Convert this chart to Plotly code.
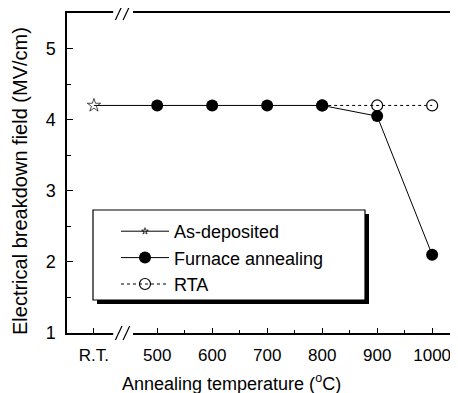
import plotly.graph_objects as go

# Data
tick_positions = [385, 500, 600, 700, 800, 900, 1000]
tick_labels = ["R.T.", "500", "600", "700", "800", "900", "1000"]

asdep_x = [385, 500]
asdep_y = [4.2, 4.2]

furnace_x = [500, 600, 700, 800, 900, 1000]
furnace_y = [4.2, 4.2, 4.2, 4.2, 4.05, 2.1]

rta_x = [800, 900, 1000]
rta_y = [4.2, 4.2, 4.2]

FONT = "Liberation Sans, Arial, sans-serif"

fig = go.Figure()

fig.add_trace(go.Scatter(
    x=asdep_x, y=asdep_y, name="As-deposited", mode="lines+markers",
    line=dict(color="black", width=1),
    marker=dict(symbol=["star-open", "circle"], size=[10, 0.1], color="black",
                line=dict(color="black", width=1)),
    legendrank=1,
))
fig.add_trace(go.Scatter(
    x=rta_x, y=rta_y, name="RTA", mode="lines+markers",
    line=dict(color="black", width=1, dash="dot"),
    marker=dict(symbol="circle-open", size=11, color="black",
                line=dict(color="black", width=1.2)),
    legendrank=3,
))
fig.add_trace(go.Scatter(
    x=furnace_x, y=furnace_y, name="Furnace annealing", mode="lines+markers",
    line=dict(color="black", width=1),
    marker=dict(symbol="circle", size=12, color="black"),
    legendrank=2,
))

# page pixel -> paper coords (page has an 8px body margin)
def px(v):
    return (v - 67) / 391

def py(v):
    return (333 - v) / 320

# legend box with shadow
fig.add_shape(type="rect", xref="paper", yref="paper",
              x0=px(97), x1=px(369), y0=py(304), y1=py(214),
              fillcolor="black", line=dict(width=0), layer="below")
fig.add_shape(type="rect", xref="paper", yref="paper",
              x0=px(93), x1=px(365), y0=py(300), y1=py(210),
              fillcolor="white", line=dict(color="black", width=1.2), layer="below")

# axis break marks
for y0 in (0, 1):
    fig.add_shape(type="line", xref="x", yref="paper", x0=420, x1=456, y0=y0, y1=y0,
                  line=dict(color="white", width=4))
    for xx in (424, 438):
        fig.add_shape(type="line", xref="x", yref="paper", x0=xx, x1=xx + 12,
                      y0=y0 - 0.022, y1=y0 + 0.022, line=dict(color="black", width=1.2))

# axis titles
fig.add_annotation(text="Annealing temperature (<sup>o</sup>C)", xref="paper", yref="paper",
                   x=px(231), y=py(382), xanchor="center", yanchor="middle",
                   showarrow=False, font=dict(family=FONT, size=18))
fig.add_annotation(text="Electrical breakdown field (MV/cm)", xref="paper", yref="paper",
                   x=px(20), y=py(181), xanchor="center", yanchor="middle",
                   textangle=-90, showarrow=False, font=dict(family=FONT, size=20))

fig.update_layout(
    width=458, height=393,
    margin=dict(l=59, r=8, t=5, b=68, autoexpand=False),
    paper_bgcolor="white", plot_bgcolor="white",
    font=dict(family=FONT, size=17, color="black"),
    showlegend=True,
    legend=dict(x=px(116), y=py(213), xanchor="left", yanchor="top",
                bgcolor="rgba(0,0,0,0)", borderwidth=0,
                font=dict(family=FONT, size=18), tracegroupgap=0,
                itemwidth=48),
    xaxis=dict(range=[336, 1047], tickvals=tick_positions, ticktext=tick_labels,
               ticks="inside", ticklen=5, tickcolor="black", tickwidth=1.2,
               showgrid=False, automargin=False, ticklabelstandoff=6,
               showline=True, linecolor="black", linewidth=1.5, mirror=True,
               zeroline=False,
               minor=dict(tickvals=[550, 650, 750, 850, 950], ticks="inside",
                          ticklen=3, tickcolor="black"),
               tickfont=dict(size=17)),
    yaxis=dict(range=[1, 5.5], tickvals=[1, 2, 3, 4, 5], ticks="inside", ticklen=6,
               tickcolor="black", tickwidth=1.2, showgrid=False, showline=True,
               linecolor="black", automargin=False, ticklabelstandoff=6,
               linewidth=1.5, zeroline=False,
               minor=dict(tickvals=[1.5, 2.5, 3.5, 4.5], ticks="inside", ticklen=4,
                          tickcolor="black"),
               tickfont=dict(size=18)),
)

fig.write_html("out.html")
